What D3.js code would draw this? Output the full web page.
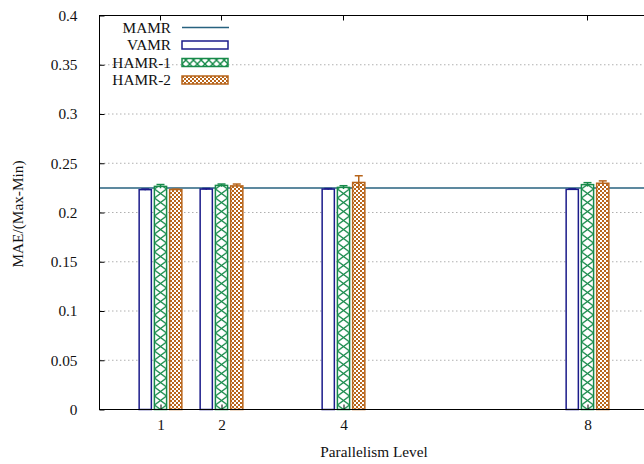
<!DOCTYPE html>
<html>
<head>
<meta charset="utf-8">
<script src="https://cdn.jsdelivr.net/npm/d3@7"></script>
<style>
html,body{margin:0;padding:0;background:#fff;}
svg{display:block;}
svg text{font-family:"Liberation Serif","Times New Roman",Times,Tinos,"Nimbus Roman","DejaVu Serif",serif !important;fill:#111;}
</style>
</head>
<body>
<script>
const levels = [1, 2, 4, 8];
const mamr = 0.225;
const vamr = [0.2232, 0.2238, 0.2238, 0.2235];
const vamrErr = [0.0006, 0.0006, 0.0005, 0.0005];
const hamr1 = [0.2265, 0.2275, 0.2255, 0.2283];
const hamr1Err = [0.0019, 0.0014, 0.0017, 0.0020];
const hamr2 = [0.2233, 0.2270, 0.2305, 0.2297];
const hamr2Err = [0.0004, 0.0019, 0.0068, 0.0024];
const yTicks = [0, 0.05, 0.1, 0.15, 0.2, 0.25, 0.3, 0.35, 0.4];
const seriesNames = ["MAMR", "VAMR", "HAMR-1", "HAMR-2"];

const W = 644, H = 464, FS = 15.3;
const svg = d3.select("body").append("svg").attr("width", W).attr("height", H);
const x = d3.scaleLinear().domain([0, 9]).range([99.5, 648.5]);
const y = d3.scaleLinear().domain([0, 0.4]).range([409.5, 15.5]);

const cNavy = "#1b1b8a", cGreen = "#178a4a", cOrange = "#b8651b", cLine = "#27627f";
const bw = 0.2;
const bwPx = x(bw) - x(0);

const defs = svg.append("defs");
function xPattern(id, x0, w, h) {
  const p = defs.append("pattern").attr("id", id).attr("patternUnits", "userSpaceOnUse")
    .attr("x", x0).attr("y", 0).attr("width", w).attr("height", h);
  p.append("rect").attr("width", w).attr("height", h).attr("fill", "#fff");
  p.append("path").attr("d", `M0,0L${w},${h}M${w},0L0,${h}`).attr("stroke", cGreen).attr("stroke-width", 1.4);
}
levels.forEach((d, i) => xPattern("pX" + i, x(d - bw / 2), bwPx, 9));
xPattern("pXleg", 182, 46 / 6, 8);
const p2 = defs.append("pattern").attr("id", "pC").attr("patternUnits", "userSpaceOnUse")
  .attr("width", 4).attr("height", 4);
p2.append("rect").attr("width", 4).attr("height", 4).attr("fill", cOrange);
p2.append("rect").attr("x", 0).attr("y", 0).attr("width", 2).attr("height", 2).attr("fill", "#fff");
p2.append("rect").attr("x", 2).attr("y", 2).attr("width", 2).attr("height", 2).attr("fill", "#fff");

// grid
svg.append("g").selectAll("line").data(yTicks.filter(t => t > 0 && t < 0.4)).join("line")
  .attr("x1", 100).attr("x2", W).attr("y1", d => y(d)).attr("y2", d => y(d))
  .attr("stroke", "#b0b0b0").attr("stroke-width", 1).attr("stroke-dasharray", "1.5,2.5");

// MAMR line
svg.append("line").attr("x1", x(0)).attr("x2", x(9)).attr("y1", y(mamr)).attr("y2", y(mamr))
  .attr("stroke", cLine).attr("stroke-width", 1.5);

const series = [
  {vals: vamr, err: vamrErr, off: -0.25, stroke: cNavy, fill: () => "#fff"},
  {vals: hamr1, err: hamr1Err, off: 0, stroke: cGreen, fill: i => `url(#pX${i})`},
  {vals: hamr2, err: hamr2Err, off: 0.25, stroke: cOrange, fill: () => "url(#pC)"}
];
series.forEach(s => {
  const g = svg.append("g");
  g.selectAll("rect").data(levels).join("rect")
    .attr("x", (d) => x(d + s.off - bw / 2))
    .attr("width", bwPx)
    .attr("y", (d, i) => y(s.vals[i]))
    .attr("height", (d, i) => y(0) - y(s.vals[i]))
    .attr("fill", (d, i) => s.fill(i)).attr("stroke", s.stroke).attr("stroke-width", 1.5);
  const eg = g.selectAll("g.e").data(levels).join("g");
  eg.append("line")
    .attr("x1", d => x(d + s.off)).attr("x2", d => x(d + s.off))
    .attr("y1", (d, i) => y(s.vals[i] - s.err[i])).attr("y2", (d, i) => y(s.vals[i] + s.err[i]))
    .attr("stroke", s.stroke).attr("stroke-width", 1.5);
  eg.append("line")
    .attr("x1", d => x(d + s.off) - 4).attr("x2", d => x(d + s.off) + 4)
    .attr("y1", (d, i) => y(s.vals[i] + s.err[i])).attr("y2", (d, i) => y(s.vals[i] + s.err[i]))
    .attr("stroke", s.stroke).attr("stroke-width", 1.5);
});

// border
svg.append("rect").attr("x", x(0)).attr("y", y(0.4)).attr("width", x(9) - x(0)).attr("height", y(0) - y(0.4))
  .attr("fill", "none").attr("stroke", "#000").attr("stroke-width", 1);

// y axis
const ya = svg.append("g").attr("transform", `translate(${x(0)},0)`)
  .call(d3.axisLeft(y).tickValues(yTicks).tickFormat(d => d3.format("")(+d.toFixed(2))).tickSizeInner(-5).tickSizeOuter(0).tickPadding(22));
ya.select(".domain").remove();
ya.attr("font-family", null).attr("font-size", FS);
ya.selectAll("line").attr("stroke", "#000");
ya.selectAll("text").attr("fill", "#111");

// x axis
const xa = svg.append("g").attr("transform", `translate(0,${y(0)})`)
  .call(d3.axisBottom(x).tickValues(levels).tickFormat(d3.format("d")).tickSizeInner(-5).tickSizeOuter(0).tickPadding(10));
xa.select(".domain").remove();
xa.attr("font-family", null).attr("font-size", FS);
xa.selectAll("line").attr("stroke", "#000");
xa.selectAll("text").attr("fill", "#111");
// mirrored top ticks
svg.append("g").selectAll("line").data(levels).join("line")
  .attr("x1", d => x(d)).attr("x2", d => x(d)).attr("y1", y(0.4)).attr("y2", y(0.4) + 5).attr("stroke", "#000");

// axis titles
svg.append("text").attr("x", x(4.5) ).attr("y", 457).attr("text-anchor", "middle").attr("font-size", FS)
  .text("Parallelism Level");
svg.append("text").attr("transform", "translate(23,214) rotate(-90)").attr("text-anchor", "middle").attr("font-size", FS)
  .text("MAE/(Max-Min)");

// legend
const lg = svg.append("g");
const rows = [27.5, 45, 62.5, 80];
seriesNames.forEach((n, i) => {
  lg.append("text").attr("x", 171).attr("y", rows[i] + 5).attr("text-anchor", "end").attr("font-size", FS).text(n);
});
lg.append("line").attr("x1", 182).attr("x2", 229).attr("y1", rows[0]).attr("y2", rows[0]).attr("stroke", cLine).attr("stroke-width", 1.5);
[{s: cNavy, f: "#fff"}, {s: cGreen, f: "url(#pXleg)"}, {s: cOrange, f: "url(#pC)"}].forEach((d, i) => {
  lg.append("rect").attr("x", 182).attr("y", rows[i + 1] - 4).attr("width", 46).attr("height", 8)
    .attr("fill", d.f).attr("stroke", d.s).attr("stroke-width", 1.5);
});
</script>
</body>
</html>
